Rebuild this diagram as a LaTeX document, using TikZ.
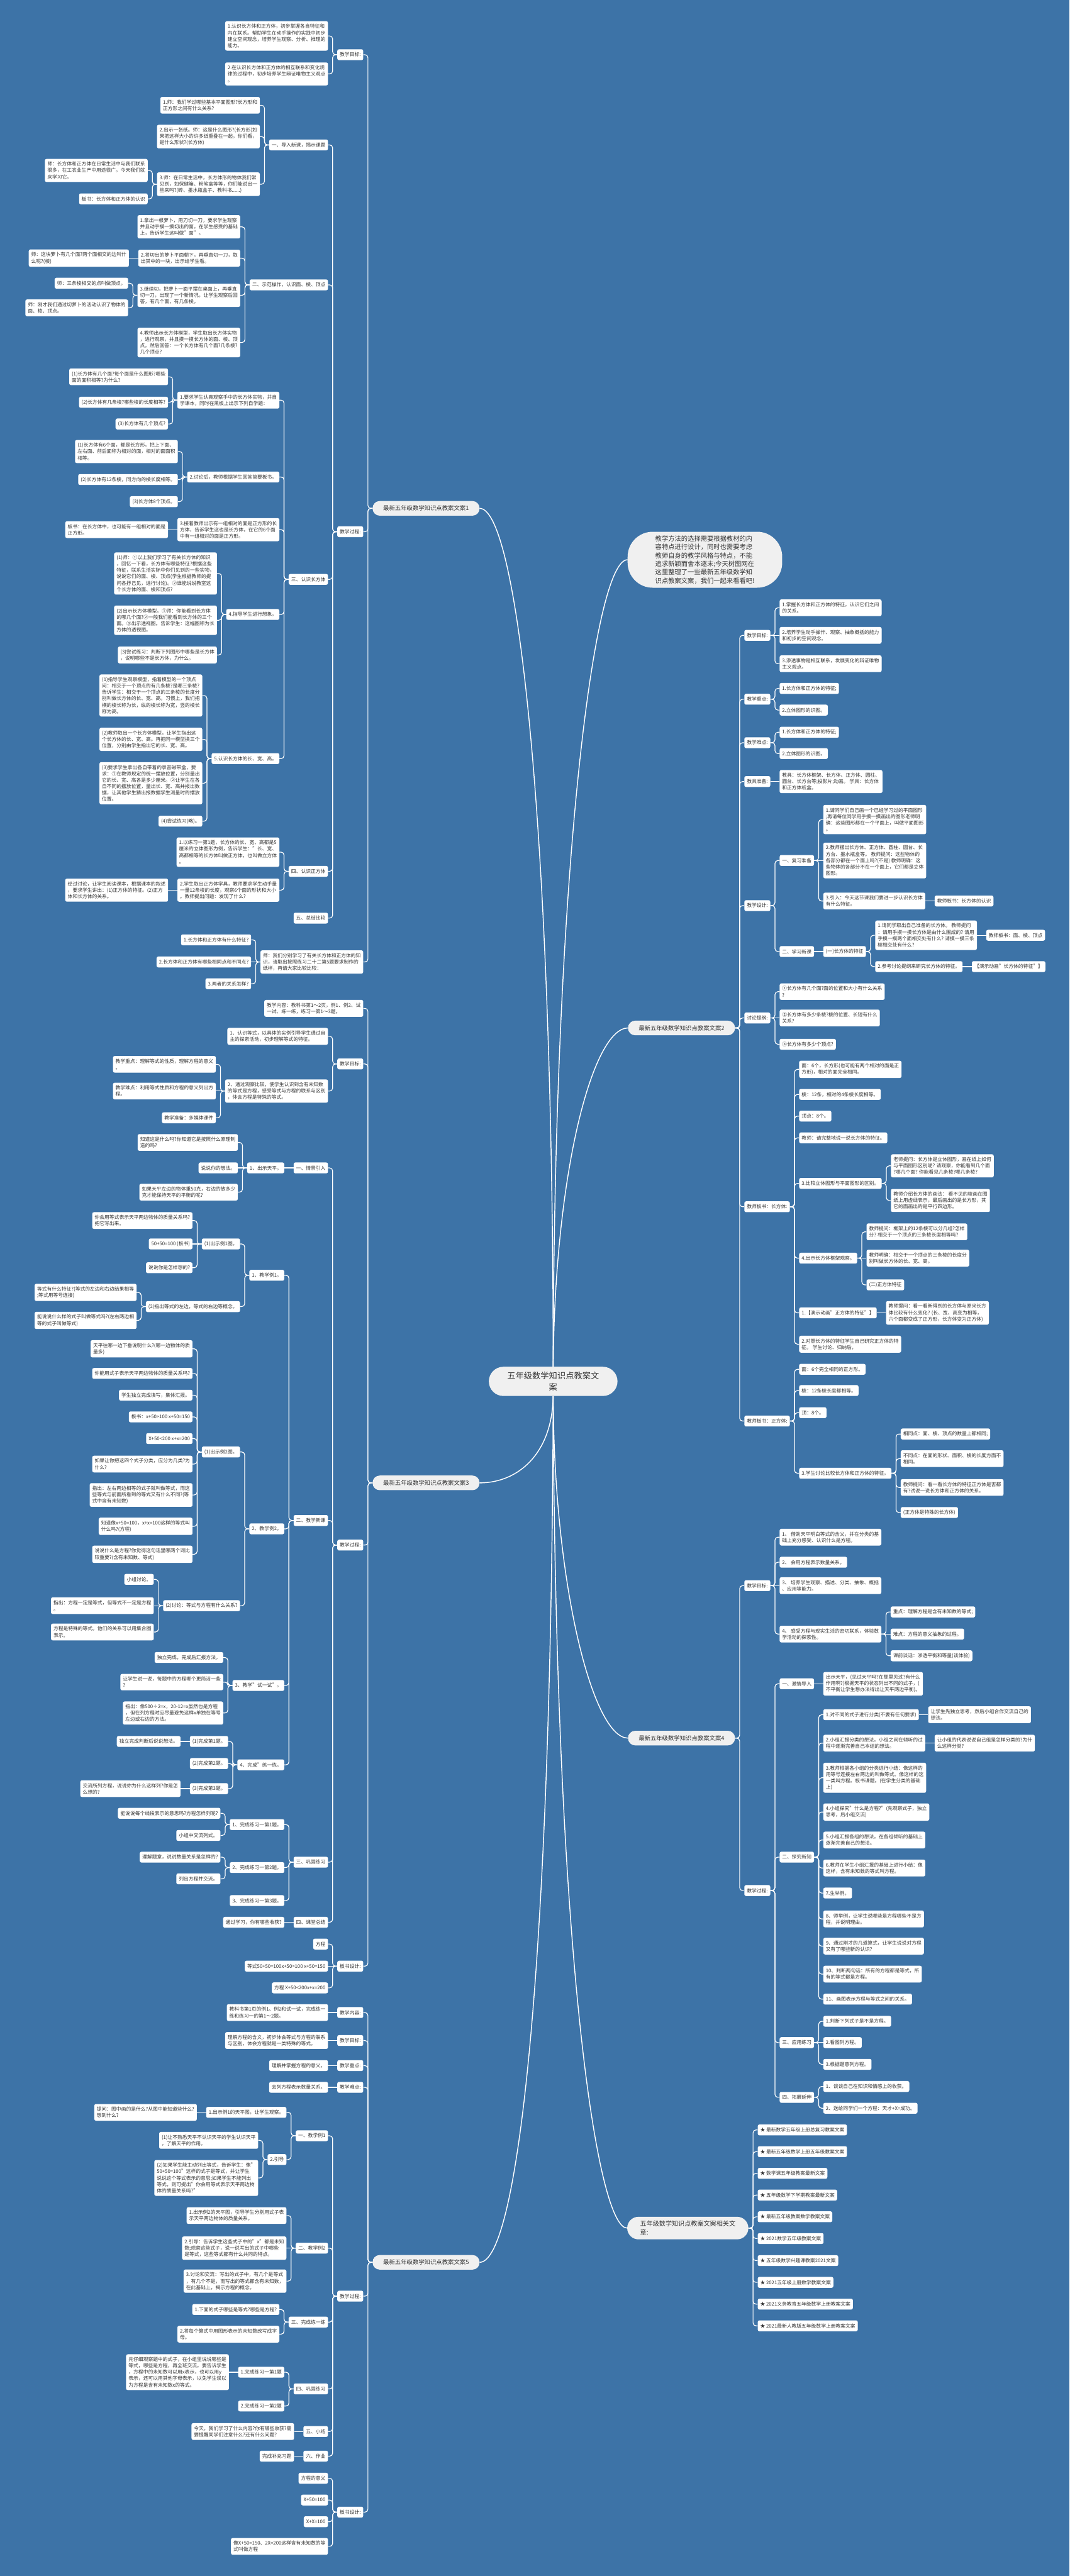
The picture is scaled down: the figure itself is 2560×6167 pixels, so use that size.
\documentclass[tikz,border=0pt]{standalone}
\usepackage{fontspec}
\setmainfont{Noto Sans CJK SC}
\usetikzlibrary{calc}
\definecolor{bg}{RGB}{61,115,167}
\definecolor{tx}{RGB}{51,51,51}
\definecolor{br}{RGB}{240,240,240}
\tikzset{
 mbox/.style={fill=white, rounded corners=4pt, text=tx, font=\fontsize{11.7}{15.2}\selectfont, align=left, inner xsep=6pt, inner ysep=7pt, minimum height=26pt},
 mconn/.style={draw=white, line width=1.8pt, rounded corners=7pt},
 mcurve/.style={draw=white, line width=2.2pt},
 mbranch/.style={fill=br, text=tx, rounded corners=17pt, font=\fontsize{14.1}{18}\selectfont, minimum width=256pt, minimum height=35pt, inner ysep=4pt},
 mroot/.style={fill=br, text=tx, rounded corners=35pt, font=\fontsize{20}{26}\selectfont, align=center, minimum width=308pt, minimum height=70pt, inner ysep=10pt},
 mbubble/.style={fill=br, text=tx, rounded corners=60pt, font=\fontsize{15.5}{20}\selectfont, align=left, minimum width=370pt, minimum height=134pt},
 mrel/.style={fill=br, text=tx, rounded corners=27pt, font=\fontsize{15.2}{21}\selectfont, align=left, minimum width=290pt, minimum height=54pt, inner xsep=20pt},
}
\newcommand\conL[2]{\draw[mconn] (#1.west) -- ++(-11pt,0) |- (#2.east);}
\newcommand\conR[2]{\draw[mconn] (#1.east) -- ++(11pt,0) |- (#2.west);}
\newcommand\LN[4]{\node[mbox,anchor=east,xshift=-22pt] (#1) at (#2.west |- 0,#3) {#4};\conL{#2}{#1}}
\newcommand\RN[4]{\node[mbox,anchor=west,xshift=22pt] (#1) at (#2.east |- 0,#3) {#4};\conR{#2}{#1}}
\newcommand\LS[3]{\node[mbox,anchor=east,xshift=-22pt] (#1) at (#2.west) {#3};\draw[mconn] (#2.west) -- (#1.east);}
\newcommand\RS[3]{\node[mbox,anchor=west,xshift=22pt] (#1) at (#2.east) {#3};\draw[mconn] (#2.east) -- (#1.west);}
\begin{document}
\begin{tikzpicture}[x=1pt,y=-1pt]
\useasboundingbox (0,0) rectangle (2560,6167);
\fill[bg] (0,0) rectangle (2560,6167);

% root and first level
\node[mroot] (R) at (1324,3307) {五年级数学知识点教案文\\案};
\node[mbubble,anchor=west] (I) at (1502,1340) {教学方法的选择需要根据教材的内\\容特点进行设计，同时也需要考虑\\教师自身的教学风格与特点，不能\\追求新颖而舍本逐末;今天树图网在\\这里整理了一些最新五年级数学知\\识点教案文案，我们一起来看看吧!};
\node[mbranch,anchor=east] (B1) at (1148,1217) {最新五年级数学知识点教案文案1};
\node[mbranch,anchor=west] (B2) at (1503,2461) {最新五年级数学知识点教案文案2};
\node[mbranch,anchor=east] (B3) at (1148,3550) {最新五年级数学知识点教案文案3};
\node[mbranch,anchor=west] (B4) at (1503,4161) {最新五年级数学知识点教案文案4};
\node[mbranch,anchor=east] (B5) at (1148,5416) {最新五年级数学知识点教案文案5};
\node[mrel,anchor=west] (B6) at (1501,5334) {五年级数学知识点教案文案相关文\\章:};

\draw[mcurve] (R.north) .. controls (1324,2000) and (1240,1217) .. (B1.east);
\draw[mcurve] (R.north) .. controls (1326,2100) and (1420,1340) .. (I.west);
\draw[mcurve] (R.north) .. controls (1328,2800) and (1420,2461) .. (B2.west);
\draw[mcurve] (R.south) .. controls (1322,3480) and (1240,3550) .. (B3.east);
\draw[mcurve] (R.south) .. controls (1326,3800) and (1420,4161) .. (B4.west);
\draw[mcurve] (R.south) .. controls (1330,4700) and (1430,5334) .. (B6.west);
\draw[mcurve] (R.south) .. controls (1320,4700) and (1240,5416) .. (B5.east);

% ================= Branch 1 =================
\LN{a1}{B1}{131}{教学目标:}
\LN{a11}{a1}{86}{1.认识长方体和正方体，初步掌握各自特征和\\内在联系。帮助学生在动手操作的实践中初步\\建立空间观念，培养学生观察、分析、推理的\\能力。}
\LN{a12}{a1}{177}{2.在认识长方体和正方体的相互联系和变化规\\律的过程中，初步培养学生辩证唯物主义观点\\。}
\LN{a2}{B1}{1273}{教学过程:}
\LN{a21}{a2}{347}{一、导入新课，揭示课题}
\LN{a211}{a21}{252}{1.师：我们学过哪些基本平面图形?长方形和\\正方形之间有什么关系?}
\LN{a212}{a21}{327}{2.出示一张纸。师：这是什么图形?(长方形)如\\果把这样大小的许多纸重叠在一起，你们看，\\是什么形状?(长方体)}
\LN{a213}{a21}{441}{3.师：在日常生活中，长方体形的物体我们常\\见到，如保健箱、粉笔盒等等，你们能说出一\\些来吗?(砖、墨水瓶盒子、教科书......)}
\LN{a2131}{a213}{408}{师：长方体和正方体在日常生活中与我们联系\\很多，在工农业生产中用途很广。今天我们就\\来学习它。}
\LN{a2132}{a213}{476}{板书：长方体和正方体的认识}
\LN{a22}{a2}{682}{二、示范操作，认识面、棱、顶点}
\LN{a221}{a22}{543}{1.拿出一根萝卜，用刀切一刀，要求学生观察\\并且动手摸一摸切出的面。在学生感受的基础\\上，告诉学生这叫做"面"。}
\LN{a222}{a22}{618}{2.将切出的萝卜平面朝下，再垂直切一刀，取\\出其中的一块，出示给学生看。}
\LS{a2221}{a222}{师：这块萝卜有几个面?两个面相交的边叫什\\么呢?(棱)}
\LN{a223}{a22}{707}{3.继续切，把萝卜一面平摆在桌面上，再垂直\\切一刀，出现了一个新情况，让学生观察后回\\答，有几个面，有几条棱。}
\LN{a2231}{a223}{678}{师：三条棱相交的点叫做顶点。}
\LN{a2232}{a223}{737}{师：刚才我们通过切萝卜的活动认识了物体的\\面、棱、顶点。}
\LN{a224}{a22}{820}{4.教师出示长方体模型，学生取出长方体实物\\，进行观察，并且摸一摸长方体的面、棱、顶\\点。然后回答：一个长方体有几个面?几条棱?\\几个顶点?}
\LN{a23}{a2}{1387}{三、认识长方体}
\LN{a231}{a23}{958}{1.要求学生认真观察手中的长方体实物，并自\\学课本，同时在黑板上出示下列自学题：}
\LN{a2311}{a231}{902}{(1)长方体有几个面?每个面是什么图形?哪些\\面的面积相等?为什么?}
\LN{a2312}{a231}{963}{(2)长方体有几条棱?哪些棱的长度相等?}
\LN{a2313}{a231}{1015}{(3)长方体有几个顶点?}
\LN{a232}{a23}{1142}{2.讨论后，教师根据学生回答简要板书。}
\LN{a2321}{a232}{1081}{(1)长方体有6个面，都是长方形。把上下面、\\左右面、前后面称为相对的面，相对的面面积\\相等。}
\LN{a2322}{a232}{1148}{(2)长方体有12条棱，同方向的棱长度相等。}
\LN{a2323}{a232}{1201}{(3)长方体8个顶点。}
\LN{a233}{a23}{1268}{3.接着教师出示有一组相对的面是正方形的长\\方体，告诉学生这也是长方体，在它的6个面\\中有一组相对的面是正方形。}
\LS{a2331}{a233}{板书：在长方体中，也可能有一组相对的面是\\正方形。}
\LN{a234}{a23}{1471}{4.指导学生进行想象。}
\LN{a2341}{a234}{1373}{(1)师：①以上我们学习了有关长方体的知识\\，回忆一下看，长方体有哪些特征?根据这些\\特征，联系生活实际中你们见到的一些实物，\\说说它们的面、棱、顶点(学生根据教师的提\\问各抒己见，进行讨论)。②谁能说说教室这\\个长方体的面、棱和顶点?}
\LN{a2342}{a234}{1485}{(2)出示长方体模型。①师：你能看到长方体\\的哪几个面?②一般我们能看到长方体的三个\\面。③出示透视图。告诉学生：这幅图称为长\\方体的透视图。}
\LN{a2343}{a234}{1568}{(3)尝试练习：判断下列图形中哪些是长方体\\，说明哪些不是长方体，为什么。}
\LN{a235}{a23}{1816}{5.认识长方体的长、宽、高。}
\LN{a2351}{a235}{1665}{(1)指导学生观察模型，指着模型的一个顶点\\问：相交于一个顶点的有几条棱?是哪三条棱?\\告诉学生：相交于一个顶点的三条棱的长度分\\别叫做长方体的长、宽、高。习惯上，我们把\\横的棱长称为长，纵的棱长称为宽，竖的棱长\\称为高。}
\LN{a2352}{a235}{1770}{(2)教师取出一个长方体模型，让学生指出这\\个长方体的长、宽、高。再把同一模型换三个\\位置，分别由学生指出它的长、宽、高。}
\LN{a2353}{a235}{1875}{(3)要求学生拿出各自带着的录音磁带盒，要\\求：①在教师规定的统一摆放位置，分别量出\\它的长、宽、高各是多少厘米。②让学生在各\\自不同的摆放位置，量出长、宽、高并报出数\\据，让其他学生猜出报数据学生测量时的摆放\\位置。}
\LN{a2354}{a235}{1966}{(4)尝试练习(略)。}
\LN{a24}{a2}{2086}{四、认识正方体}
\LN{a241}{a24}{2040}{1.以练习一第1题，长方体的长、宽、高都是5\\厘米的立体图形为例，告诉学生："长、宽、\\高都相等的长方体叫做正方体，也叫做立方体\\。}
\LN{a242}{a24}{2131}{2.学生取出正方体学具，教师要求学生动手量\\一量12条棱的长度，观察6个面的形状和大小\\。教师提出问题：发现了什么?}
\LS{a2421}{a242}{经过讨论，让学生阅读课本，根据课本的叙述\\，要求学生讲出：(1)正方体的特征。(2)正方\\体和长方体的关系。}
\LN{a25}{a2}{2198}{五、总结比较}
\LN{a3}{B1}{2303}{师：我们分别学习了有关长方体和正方体的知\\识，请取出按照练习二十二第5题要求制作的\\纸样，再请大家比较比较：}
\LN{a31}{a3}{2250}{1.长方体和正方体有什么特征?}
\LS{a32}{a3}{2.长方体和正方体有哪些相同点和不同点?}
\LN{a33}{a3}{2355}{3.两者的关系怎样?}

% ================= Branch 3 =================
\LN{c1}{B3}{2414}{教学内容：教科书第1～2页，例1、例2、试\\一试、练一练，练习一第1～3题。}
\LN{c2}{B3}{2547}{教学目标:}
\LN{c21}{c2}{2481}{1、认识等式，以具体的实例引导学生通过自\\主的探索活动，初步理解等式的特征。}
\LN{c22}{c2}{2612}{2、通过观察比较，使学生认识到含有未知数\\的等式是方程，感受等式与方程的联系与区别\\，体会方程是特殊的等式。}
\LN{c221}{c22}{2548}{教学重点：理解等式的性质，理解方程的意义\\。}
\LS{c222}{c22}{教学难点：利用等式性质和方程的意义列出方\\程。}
\LN{c223}{c22}{2676}{教学准备：多媒体课件}
\LN{c3}{B3}{3699}{教学过程:}
\LN{c31}{c3}{2796}{一、情景引入}
\LS{c311}{c31}{1、出示天平。}
\LN{c3111}{c311}{2735}{知道这是什么吗?你知道它是按照什么原理制\\造的吗?}
\LS{c3112}{c311}{说说你的想法。}
\LN{c3113}{c311}{2854}{如果天平左边的物体重50克，右边的放多少\\克才能保持天平的平衡的呢?}
\LN{c32}{c3}{3640}{二、教学新课}
\LN{c321}{c32}{3053}{1、教学例1。}
\LN{c3211}{c321}{2978}{(1)出示例1图。}
\LN{c32111}{c3211}{2922}{你会用等式表示天平两边物体的质量关系吗?\\把它写出来。}
\LS{c32112}{c3211}{50+50=100 (板书)}
\LN{c32113}{c3211}{3035}{说说你是怎样想的?}
\LN{c3212}{c321}{3128}{(2)指出等式的左边，等式的右边等概念。}
\LN{c32121}{c3212}{3094}{等式有什么特征?(等式的左边和右边结果相等\\;等式用等号连接)}
\LN{c32122}{c3212}{3161}{能说说什么样的式子叫做等式吗?(左右两边相\\等的式子叫做等式)}
\LN{c322}{c32}{3660}{2、教学例2。}
\LN{c3221}{c322}{3476}{(1)出示例2图。}
\LN{c32211}{c3221}{3229}{天平往哪一边下垂说明什么?(哪一边物体的质\\量多)}
\LN{c32212}{c3221}{3288}{你能用式子表示天平两边物体的质量关系吗?}
\LN{c32213}{c3221}{3340}{学生独立完成填写，集体汇报。}
\LN{c32214}{c3221}{3392}{板书：x+50>100 x+50=150}
\LN{c32215}{c3221}{3444}{X+50<200 x+x=200}
\LN{c32216}{c3221}{3505}{如果让你把这四个式子分类，应分为几类?为\\什么?}
\LN{c32217}{c3221}{3579}{指出：左右两边相等的式子就叫做等式，而这\\些等式与前面所看到的等式又有什么不同?(等\\式中含有未知数)}
\LN{c32218}{c3221}{3654}{知道像x+50=100，x+x=100这样的等式叫\\什么吗?(方程)}
\LN{c32219}{c3221}{3721}{说说什么是方程?你觉得这句话里哪两个词比\\较重要?(含有未知数、等式)}
\LN{c3222}{c322}{3844}{(2)讨论：等式与方程有什么关系?}
\LN{c32221}{c3222}{3781}{小组讨论。}
\LS{c32222}{c3222}{指出：方程一定是等式，但等式不一定是方程\\。}
\LN{c32223}{c3222}{3907}{方程是特殊的等式。他们的关系可以用集合图\\表示。}
\LN{c323}{c32}{4035}{3、教学"试一试"。}
\LN{c3231}{c323}{3968}{独立完成，完成后汇报方法。}
\LN{c3232}{c323}{4027}{让学生说一说，每题中的方程哪个更简洁一些\\?}
\LN{c3233}{c323}{4101}{指出：像500÷2=x，20-12=x虽然也是方程\\，但在列方程时应尽量避免这样x单独在等号\\左边或右边的方法。}
\LN{c324}{c32}{4225}{4、完成"练一练。}
\LN{c3241}{c324}{4169}{(1)完成第1题。}
\LS{c32411}{c3241}{独立完成判断后说说想法。}
\LN{c3242}{c324}{4222}{(2)完成第2题。}
\LN{c3243}{c324}{4282}{(3)完成第3题。}
\LS{c32431}{c3243}{交流所列方程，说说你为什么这样列?你是怎\\么想的?}
\LN{c33}{c3}{4458}{三、巩固练习}
\LN{c331}{c33}{4368}{1、完成练习一第1题。}
\LN{c3311}{c331}{4341}{能说说每个线段表示的意思吗?方程怎样列呢?}
\LN{c3312}{c331}{4394}{小组中交流列式。}
\LN{c332}{c33}{4471}{2、完成练习一第2题。}
\LN{c3321}{c332}{4446}{理解题意，说说数量关系是怎样的?}
\LN{c3322}{c332}{4498}{列出方程并交流。}
\LN{c333}{c33}{4550}{3、完成练习一第3题。}
\LN{c34}{c3}{4602}{四、课堂总结}
\LS{c341}{c34}{通过学习，你有哪些收获?}
\LN{c4}{B3}{4707}{板书设计:}
\LN{c41}{c4}{4654}{方程}
\LS{c42}{c4}{等式50+50=100x+50>100 x+50=150}
\LN{c43}{c4}{4759}{方程 X+50<200x+x=200}

% ================= Branch 5 =================
\LN{e1}{B5}{4818}{教学内容:}
\LS{e11}{e1}{教科书第1页的例1、例2和试一试，完成练一\\练和练习一的第1～2题。}
\LN{e2}{B5}{4885}{教学目标:}
\LS{e21}{e2}{理解方程的含义，初步体会等式与方程的联系\\与区别，体会方程就是一类特殊的等式。}
\LN{e3}{B5}{4945}{教学重点:}
\LS{e31}{e3}{理解并掌握方程的意义。}
\LN{e4}{B5}{4997}{教学难点:}
\LS{e41}{e4}{会列方程表示数量关系。}
\LN{e5}{B5}{5497}{教学过程:}
\LN{e51}{e5}{5113}{一、教学例1}
\LN{e511}{e51}{5057}{1.出示例1的天平图，让学生观察。}
\LS{e5111}{e511}{提问：图中画的是什么?从图中能知道些什么?\\想到什么?}
\LN{e512}{e51}{5170}{2.引导}
\LN{e5121}{e512}{5124}{(1)让不熟悉天平不认识天平的学生认识天平\\，了解天平的作用。}
\LN{e5122}{e512}{5214}{(2)如果学生能主动列出等式，告诉学生：像"\\50+50=100"这样的式子是等式，并让学生\\说说这个等式表示的意思;如果学生不能列出\\等式，则可提出"你会用等式表示天平两边物\\体的质量关系吗?"}
\LN{e52}{e5}{5382}{二、教学例2}
\LN{e521}{e52}{5304}{1.出示例2的天平图，引导学生分别用式子表\\示天平两边物体的质量关系。}
\LS{e522}{e52}{2.引导：告诉学生这些式子中的"x"都是未知\\数;观察这些式子，说一说写出的式子中哪些\\是等式，这些等式都有什么共同的特点。}
\LN{e523}{e52}{5461}{3.讨论和交流：写出的式子中，有几个是等式\\，有几个不是，而写出的等式都含有未知数，\\在此基础上，揭示方程的概念。}
\LN{e53}{e5}{5559}{三、完成练一练}
\LN{e531}{e53}{5529}{1.下面的式子哪些是等式?哪些是方程?}
\LN{e532}{e53}{5588}{2.将每个算式中用图形表示的未知数改写成字\\母。}
\LN{e54}{e5}{5719}{四、巩固练习}
\LN{e541}{e54}{5679}{1.完成练习一第1题}
\LS{e5411}{e541}{先仔细观察题中的式子，在小组里说说哪些是\\等式，哪些是方程，再全班交流。要告诉学生\\，方程中的未知数可以用x表示，也可以用y\\表示，还可以用其他字母表示，以免学生误以\\为方程是含有未知数x的等式。}
\LN{e542}{e54}{5760}{2.完成练习一第2题}
\LN{e55}{e5}{5821}{五、小结}
\LS{e551}{e55}{今天，我们学习了什么内容?你有哪些收获?需\\要提醒同学们注意什么?还有什么问题?}
\LN{e56}{e5}{5880}{六、作业}
\LS{e561}{e56}{完成补充习题}
\LN{e6}{B5}{6014}{板书设计:}
\LN{e61}{e6}{5933}{方程的意义}
\LN{e62}{e6}{5985}{X+50=100}
\LN{e63}{e6}{6037}{X+X=100}
\LN{e64}{e6}{6096}{像X+50=150、2X=200这样含有未知数的等\\式叫做方程}

% ================= Branch 2 =================
\RN{b1}{B2}{1521}{教学目标:}
\RN{b11}{b1}{1455}{1.掌握长方体和正方体的特征，认识它们之间\\的关系。}
\RS{b12}{b1}{2.培养学生动手操作、观察、抽象概括的能力\\和初步的空间观念。}
\RN{b13}{b1}{1589}{3.渗透事物是相互联系，发展变化的辩证唯物\\主义观点。}
\RN{b2}{B2}{1674}{教学重点:}
\RN{b21}{b2}{1648}{1.长方体和正方体的特征;}
\RN{b22}{b2}{1700}{2.立体图形的识图。}
\RN{b3}{B2}{1778}{教学难点:}
\RN{b31}{b3}{1753}{1.长方体和正方体的特征;}
\RN{b32}{b3}{1804}{2.立体图形的识图。}
\RN{b4}{B2}{1871}{教具准备:}
\RS{b41}{b4}{教具：长方体框架、长方体、正方体、圆柱、\\圆台、长方台等;投影片;动画。 学具：长方体\\和正方体纸盒。}
\RN{b5}{B2}{2168}{教学设计:}
\RN{b51}{b5}{2060}{一、复习准备}
\RN{b511}{b51}{1962}{1.请同学们自己画一个已经学习过的平面图形\\;再请每位同学用手摸一摸画出的图形老师明\\确：这些图形都在一个平面上，叫做平面图形\\。}
\RS{b512}{b51}{2.教师摆出长方体、正方体、圆柱、圆台、长\\方台、墨水瓶盒等。 教师提问：这些物体的\\各部分都在一个面上吗?(不是) 教师明确：这\\些物体的各部分不在一个面上，它们都是立体\\图形。}
\RN{b513}{b51}{2157}{3.引入：今天这节课我们要进一步认识长方体\\有什么特征。}
\RS{b5131}{b513}{教师板书：长方体的认识}
\RN{b52}{b5}{2278}{二、学习新课}
\RS{b521}{b52}{(一)长方体的特征}
\RN{b5211}{b521}{2239}{1.请同学取出自己准备的长方体。 教师提问\\：请用手摸一摸长方体是由什么围成的? 请用\\手摸一摸两个面相交处有什么? 请摸一摸三条\\棱相交处有什么?}
\RS{b52111}{b5211}{教师板书：面、棱、顶点}
\RN{b5212}{b521}{2314}{2.参考讨论提纲来研究长方体的特征。}
\RS{b52121}{b5212}{【演示动画"长方体的特征"】}
\RN{b6}{B2}{2437}{讨论提纲:}
\RN{b61}{b6}{2374}{①长方体有几个面?面的位置和大小有什么关系\\?}
\RS{b62}{b6}{②长方体有多少条棱?棱的位置、长短有什么\\关系?}
\RN{b63}{b6}{2500}{③长方体有多少个顶点?}
\RN{b7}{B2}{2889}{教师板书：长方体:}
\RN{b71}{b7}{2560}{面：6个，长方形(也可能有两个相对的面是正\\方形)，相对的面完全相同。}
\RN{b72}{b7}{2620}{棱：12条，相对的4条棱长度相等。}
\RN{b73}{b7}{2672}{顶点：8个。}
\RN{b74}{b7}{2724}{教师：请完整地说一说长方体的特征。}
\RN{b75}{b7}{2833}{3.比较立体图形与平面图形的区别。}
\RN{b751}{b75}{2791}{老师提问：长方体是立体图形，画在纸上如何\\与平面图形区别呢? 请观察，你能看到几个面\\?哪几个面? 你能看见几条棱?哪几条棱?}
\RN{b752}{b75}{2874}{教师介绍长方体的画法： 看不见的棱画在图\\纸上用虚线表示，最后画出的是长方形，其\\它的面画出的是平行四边形。}
\RN{b76}{b7}{3012}{4.出示长方体框架观察。}
\RN{b761}{b76}{2949}{教师提问：框架上的12条棱可以分几组?怎样\\分? 相交于一个顶点的三条棱长度相等吗?}
\RS{b762}{b76}{教师明确：相交于一个顶点的三条棱的长度分\\别叫做长方体的长、宽、高。}
\RN{b763}{b76}{3076}{(二)正方体特征}
\RN{b77}{b7}{3143}{1.【演示动画"正方体的特征"】}
\RS{b771}{b77}{教师提问：看一看新得到的长方体与原来长方\\体比较有什么变化? (长、宽、高变为相等，\\六个面都变成了正方形，长方体变为正方体)}
\RN{b78}{b7}{3218}{2.对照长方体的特征学生自己研究正方体的特\\征。 学生讨论、归纳后，}
\RN{b8}{B2}{3402}{教师板书：正方体:}
\RN{b81}{b8}{3278}{面：6个完全相同的正方形。}
\RN{b82}{b8}{3329}{棱：12条棱长度都相等。}
\RN{b83}{b8}{3382}{顶：8个。}
\RN{b84}{b8}{3527}{3.学生讨论比较长方体和正方体的特征。}
\RN{b841}{b84}{3433}{相同点：面、棱、顶点的数量上都相同;}
\RN{b842}{b84}{3492}{不同点：在面的形状、面积、棱的长度方面不\\相同。}
\RN{b843}{b84}{3561}{教师提问：看一看长方体的特征正方体是否都\\有?试说一说长方体和正方体的关系。}
\RN{b844}{b84}{3621}{(正方体是特殊的长方体)}

% ================= Branch 4 =================
\RN{d1}{B4}{3796}{教学目标:}
\RN{d11}{d1}{3680}{1、 借助天平明白等式的含义，并在分类的基\\础上充分感受、认识什么是方程。}
\RN{d12}{d1}{3740}{2、 会用方程表示数量关系。}
\RS{d13}{d1}{3、 培养学生观察、描述、分类、抽象、概括\\、应用等能力。}
\RN{d14}{d1}{3912}{4、 感受方程与现实生活的密切联系，体验数\\学活动的探索性。}
\RN{d141}{d14}{3859}{重点：理解方程是含有未知数的等式;}
\RS{d142}{d14}{难点：方程的意义抽象的过程。}
\RN{d143}{d14}{3964}{课前谈话：渗透平衡和等量(谈体验)}
\RN{d2}{B4}{4526}{教学过程:}
\RN{d21}{d2}{4031}{一、激情导入}
\RS{d211}{d21}{出示天平，(见过天平吗?在那里见过?有什么\\作用啊?)根据天平的状态列出不同的式子，(\\不平衡让学生想办法得出让天平两边平衡)。}
\RN{d22}{d2}{4446}{二、探究新知}
\RN{d221}{d22}{4105}{1.对不同的式子进行分类(不要有任何要求)}
\RS{d2211}{d221}{让学生先独立思考，然后小组合作交流自己的\\想法。}
\RN{d222}{d22}{4173}{2.小组汇报分类的想法。小组之间在倾听的过\\程中逐渐完善自己本组的想法。}
\RS{d2221}{d222}{让小组的代表说说自己组是怎样分类的?为什\\么这样分类?}
\RN{d223}{d22}{4256}{3.教师根据各小组的分类进行小结：像这样的\\用等号连接左右两边的叫做等式。像这样的这\\一类叫方程。板书课题。(在学生分类的基础\\上)}
\RN{d224}{d22}{4338}{4.小组探究"什么是方程?"(先观察式子，独立\\思考，后小组交流)}
\RN{d225}{d22}{4405}{5.小组汇报各组的想法。在各组倾听的基础上\\逐渐完善自己的想法。}
\RN{d226}{d22}{4472}{6.教师在学生小组汇报的基础上进行小结：像\\这样，含有未知数的等式叫方程。}
\RN{d227}{d22}{4532}{7.生举例。}
\RN{d228}{d22}{4594}{8、师举例，让学生说哪些是方程哪些不是方\\程，并说明理由。}
\RN{d229}{d22}{4659}{9、通过刚才的几道算式，让学生说说对方程\\又有了哪些新的认识?}
\RN{d2210}{d22}{4726}{10、判断两句话：所有的方程都是等式，所\\有的等式都是方程。}
\RN{d2211x}{d22}{4786}{11、画图表示方程与等式之间的关系。}
\RN{d23}{d2}{4890}{三、应用练习}
\RN{d231}{d23}{4839}{1.判断下列式子是不是方程。}
\RS{d232}{d23}{2.看图列方程。}
\RN{d233}{d23}{4942}{3.根据题意列方程。}
\RN{d24}{d2}{5021}{四、拓展延伸}
\RN{d241}{d24}{4995}{1、谈谈自己在知识和情感上的收获。}
\RN{d242}{d24}{5047}{2、送给同学们一个方程：天才+X=成功。}

% ================= Related =================
\RN{f1}{B6}{5099}{★ 最新数学五年级上册总复习教案文案}
\RN{f2}{B6}{5151}{★ 最新五年级数学上册五年级教案文案}
\RN{f3}{B6}{5203}{★ 数学课五年级教案最新文案}
\RN{f4}{B6}{5255}{★ 五年级数学下学期教案最新文案}
\RN{f5}{B6}{5307}{★ 最新五年级教案数学教案文案}
\RN{f6}{B6}{5359}{★ 2021数学五年级教案文案}
\RN{f7}{B6}{5412}{★ 五年级数学兴趣课教案2021文案}
\RN{f8}{B6}{5464}{★ 2021五年级上册数学教案文案}
\RN{f9}{B6}{5516}{★ 2021义务教育五年级数学上册教案文案}
\RN{f10}{B6}{5568}{★ 2021最新人教版五年级数学上册教案文案}
\end{tikzpicture}
\end{document}
